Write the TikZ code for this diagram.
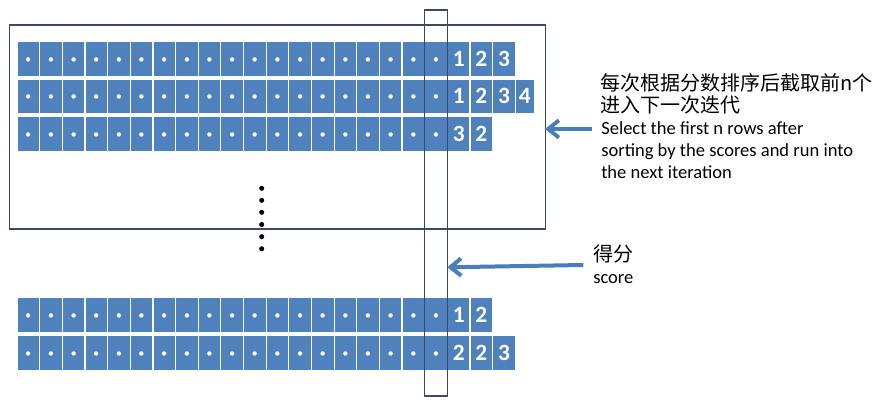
\documentclass[tikz,border=0pt]{standalone}
\usepackage{fontspec}
\setmainfont{Carlito}
\newfontfamily\cjk{Noto Sans CJK SC}
\usetikzlibrary{arrows.meta}
\definecolor{cellblue}{HTML}{4F81BD}
\definecolor{arrowblue}{HTML}{4A7EBB}
\definecolor{boxline}{HTML}{3B4A63}
\begin{document}
\begin{tikzpicture}[x=0.75pt,y=-0.75pt,
  cell/.style={fill=cellblue, draw=white, line width=0.9pt, minimum width=17pt,
    minimum height=26.25pt, inner sep=0pt, outer sep=0pt, anchor=west, text=white,
    font=\fontsize{17.5}{18}\selectfont\bfseries, text height=11pt, text depth=0pt},
  frame/.style={draw=boxline, line width=0.8pt, inner sep=0pt, outer sep=0pt, anchor=north west},
  arr/.style={draw=arrowblue, line width=3pt, -{Straight Barb[length=8pt,width=13pt]}},
  note/.style={anchor=base west, inner sep=0pt, font=\fontsize{13.9}{16}\selectfont},
  cnote/.style={anchor=base west, inner sep=0pt, font=\fontsize{15}{16}\selectfont\cjk},
  vdot/.style={circle, fill=black, inner sep=0pt, minimum size=3.8pt}
]
\useasboundingbox (0,0) rectangle (881,407);
% dot cells
\foreach \r/\y in {1/59,2/96.5,3/134,4/315,5/353}{
  \foreach \i in {0,...,18}{
    \node[cell] (r\r-\i) at ({17+22.65*\i},\y) {·};
  }
}
% score cells
\foreach \r/\y/\k/\t in {1/59/19/1,1/59/20/2,1/59/21/3,
    2/96.5/19/1,2/96.5/20/2,2/96.5/21/3,
    3/134/19/3,3/134/20/2,
    4/315/19/1,4/315/20/2,
    5/353/19/2,5/353/20/2,5/353/21/3}{
  \node[cell] (r\r-\k) at ({17+22.65*\k},\y) {\t};
}
\node[cell, minimum width=14.25pt] (r2-22) at ({17+22.65*22},96.5) {4};
% frames
\node[frame, minimum width=401.8pt, minimum height=153pt] (bigbox) at (9.3,25) {};
\node[frame, minimum width=17.25pt, minimum height=289.5pt] (vbox) at (424.3,10) {};
% arrows
\coordinate (a1s) at (591.7,129);
\draw[arr] (a1s) -- (bigbox.east |- a1s);
\coordinate (a2s) at (583.3,265);
\coordinate (a2y) at (0,267.3);
\draw[arr] (a2s) -- (vbox.east |- a2y);
% vertical ellipsis
\foreach \j/\yy in {1/188.3,2/200.3,3/212.3,4/224.5,5/236.7,6/248.8}{
  \node[vdot] (d\j) at (261.7,\yy) {};
}
% texts
\node[cnote] (t1) at (600,90) {每次根据分数排序后截取前n个};
\node[cnote] (t2) at (600,112) {进入下一次迭代};
\node[note] (t3) at (601,134) {Select the first n rows after};
\node[note] (t4) at (601,156) {sorting by the scores and run into};
\node[note] (t5) at (601,178) {the next iteration};
\node[cnote] (s1) at (593,261) {得分};
\node[note] (s2) at (593,283) {score};
\end{tikzpicture}
\end{document}
